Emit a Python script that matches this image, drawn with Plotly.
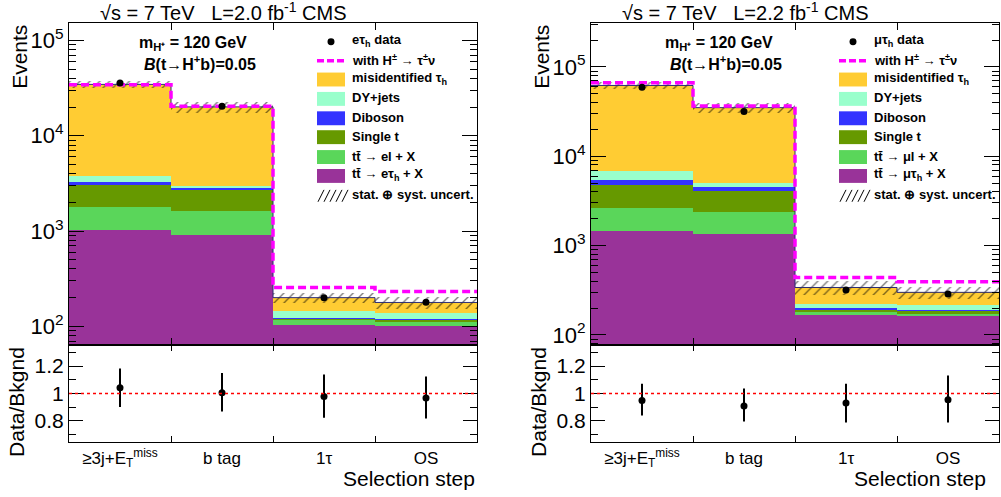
import numpy as np
import plotly.graph_objects as go

W, H = 1001, 497
FONT = "Liberation Sans, Arial, Helvetica, sans-serif"

# ---------------- data ----------------
steps = ["≥3j+E<sub>T</sub><sup>miss</sup>", "b tag", "1τ", "OS"]
bins = np.arange(len(steps))
edges = np.arange(len(steps) + 1) - 0.5

# e + tau_h channel (stack components, bottom to top)
etau_tt_tauh = [1020, 915, 104, 101]
etau_tt_l = [770, 710, 13, 10]
etau_single_t = [1240, 1075, 3, 5]
etau_diboson = [260, 150, 4, 3]
etau_dy = [500, 100, 21, 21]
etau_misid = [30810, 17150, 55, 38]
etau_uncert = [2900, 2500, 23, 27]
etau_signal = [34400, 20400, 255, 232]
etau_data = [35800, 20400, 199, 179]
etau_ratio = [1.041, 1.005, 0.978, 0.966]
etau_ratio_up = [0.141, 0.145, 0.160, 0.158]
etau_ratio_dn = [0.140, 0.138, 0.157, 0.150]

# mu + tau_h channel
mutau_tt_tauh = [1470, 1350, 166, 165]
mutau_tt_l = [1180, 1040, 14, 8]
mutau_single_t = [2130, 1730, 10, 15]
mutau_diboson = [640, 380, 10, 5]
mutau_dy = [1360, 560, 21, 24]
mutau_misid = [55220, 29940, 119, 83]
mutau_uncert = [5200, 4200, 60, 44]
mutau_signal = [66400, 36500, 439, 395]
mutau_data = [59300, 31600, 318, 288]
mutau_ratio = [0.949, 0.908, 0.930, 0.954]
mutau_ratio_up = [0.121, 0.128, 0.140, 0.177]
mutau_ratio_dn = [0.111, 0.114, 0.143, 0.167]

colors = {
    "tt_tauh": "#993399",
    "tt_l": "#5AD65A",
    "single_t": "#669900",
    "diboson": "#3333FF",
    "dy": "#99FFCC",
    "misid": "#FFCC33",
}
MAGENTA = "#FF00FF"

channels = [
    dict(
        lead="e", lumi="2.0",
        comps=[("tt_tauh", etau_tt_tauh), ("tt_l", etau_tt_l), ("single_t", etau_single_t),
               ("diboson", etau_diboson), ("dy", etau_dy), ("misid", etau_misid)],
        uncert=etau_uncert, signal=etau_signal, data=etau_data,
        ratio=etau_ratio, ratio_up=etau_ratio_up, ratio_dn=etau_ratio_dn,
        yrange=[1.805, 5.185], xpix=(69, 477),
    ),
    dict(
        lead="μ", lumi="2.2",
        comps=[("tt_tauh", mutau_tt_tauh), ("tt_l", mutau_tt_l), ("single_t", mutau_single_t),
               ("diboson", mutau_diboson), ("dy", mutau_dy), ("misid", mutau_misid)],
        uncert=mutau_uncert, signal=mutau_signal, data=mutau_data,
        ratio=mutau_ratio, ratio_up=mutau_ratio_up, ratio_dn=mutau_ratio_dn,
        yrange=[1.889, 5.493], xpix=(591, 999),
    ),
]


def px(x):
    return x / W


def py(y):
    return 1 - y / H


def note(text, x, y, size, xanchor="left", yanchor="middle", **kw):
    return dict(text=text, x=px(x), y=py(y), xref="paper", yref="paper", showarrow=False,
                xanchor=xanchor, yanchor=yanchor,
                font=dict(family=FONT, size=size, color="black"), **kw)


UP_TOP, UP_BOT, LO_BOT = 23, 347, 445

fig = go.Figure()
annotations = []
shapes = []

for i, ch in enumerate(channels):
    n = 2 * i
    xu, yu = f"x{n + 1 if n else ''}", f"y{n + 1 if n else ''}"
    xl, yl = f"x{n + 2}", f"y{n + 2}"

    # stacked backgrounds drawn as cumulative bars, tallest first
    cum = np.cumsum([np.array(v, dtype=float) for _, v in ch["comps"]], axis=0)
    for k in range(len(ch["comps"]) - 1, -1, -1):
        key = ch["comps"][k][0]
        fig.add_trace(go.Bar(
            x=bins, y=cum[k], width=1.0, marker=dict(color=colors[key], line=dict(width=0)),
            xaxis=xu, yaxis=yu, showlegend=False, hoverinfo="skip",
        ))
    total = cum[-1]
    unc = np.array(ch["uncert"], dtype=float)

    # total background outline
    fig.add_trace(go.Scatter(
        x=edges, y=np.append(total, total[-1]), mode="lines", line_shape="hv",
        line=dict(color="#2B2B70", width=1), xaxis=xu, yaxis=yu, showlegend=False, hoverinfo="skip",
    ))
    # hatched uncertainty band
    fig.add_trace(go.Bar(
        x=bins, y=2 * unc, base=total - unc, width=1.0,
        marker=dict(color="rgba(0,0,0,0)", line=dict(width=0),
                    pattern=dict(shape="/", fgcolor="black", size=7, solidity=0.2, fillmode="overlay")),
        xaxis=xu, yaxis=yu, showlegend=False, hoverinfo="skip",
    ))
    # prediction including the charged Higgs signal
    sig = np.array(ch["signal"], dtype=float)
    fig.add_trace(go.Scatter(
        x=edges, y=np.append(sig, sig[-1]), mode="lines", line_shape="hv",
        line=dict(color=MAGENTA, width=3.5, dash="8px,4px"),
        xaxis=xu, yaxis=yu, showlegend=False, hoverinfo="skip",
    ))
    # data
    fig.add_trace(go.Scatter(
        x=bins, y=ch["data"], mode="markers", marker=dict(color="black", size=7),
        xaxis=xu, yaxis=yu, showlegend=False, hoverinfo="skip",
    ))
    # ratio panel
    shapes.append(dict(type="line", xref=f"{xl} domain", yref=yl, x0=0, x1=1, y0=1, y1=1,
                       line=dict(color="#FF0000", width=1.5, dash="dot"), layer="above"))
    fig.add_trace(go.Scatter(
        x=bins, y=ch["ratio"], mode="markers", marker=dict(color="black", size=7),
        error_y=dict(type="data", array=ch["ratio_up"], arrayminus=ch["ratio_dn"],
                     color="black", thickness=2, width=0),
        xaxis=xl, yaxis=yl, showlegend=False, hoverinfo="skip",
    ))

    x0p, x1p = ch["xpix"]
    dom_x = [px(x0p), px(x1p)]
    axis_common = dict(showline=True, linecolor="black", linewidth=1, mirror="allticks",
                       showgrid=False, zeroline=False, tickcolor="black")
    xmin = dict(ticks="inside", ticklen=7, tick0=0.5, dtick=1, tickcolor="black", showgrid=False)
    lay = {}
    lay[f"xaxis{n + 1 if n else ''}"] = dict(
        domain=dom_x, anchor=yu, range=[-0.5, 3.5], showticklabels=False,
        ticks="inside", ticklen=0, dtick=1, tick0=0, minor=xmin, **axis_common)
    decades = [1e2, 1e3, 1e4, 1e5]
    minors = [m * d for d in [10, 100, 1000, 1e4, 1e5] for m in range(2, 10)]
    lay[f"yaxis{n + 1 if n else ''}"] = dict(
        domain=[py(UP_BOT), py(UP_TOP)], anchor=xu, type="log", range=ch["yrange"],
        tickvals=decades, ticktext=[f"10<sup>{int(np.log10(d))}</sup>" for d in decades],
        ticks="inside", ticklen=15, minor=dict(ticks="inside", ticklen=7, tickvals=minors, tickcolor="black"),
        tickfont=dict(family=FONT, size=22, color="black"), **axis_common)
    lay[f"xaxis{n + 2}"] = dict(
        domain=dom_x, anchor=yl, range=[-0.5, 3.5], tickvals=list(bins), ticktext=steps,
        ticks="inside", ticklen=0, minor=dict(xmin, ticklen=6),
        tickfont=dict(family=FONT, size=17, color="black"), **axis_common)
    lay[f"yaxis{n + 2}"] = dict(
        domain=[py(LO_BOT), py(UP_BOT)], anchor=xl, range=[0.642, 1.355],
        tickvals=[0.8, 1.0, 1.2], ticktext=["0.8", "1", "1.2"], ticks="inside", ticklen=14,
        minor=dict(ticks="inside", ticklen=7, tickvals=[0.7, 0.9, 1.1, 1.3], tickcolor="black"),
        tickfont=dict(family=FONT, size=21, color="black"), **axis_common)
    fig.update_layout(**lay)

    off = x0p - 69  # horizontal offset of this panel relative to the left one

    # header
    annotations.append(note(f"√s = 7 TeV\u00a0\u00a0\u00a0L={ch['lumi']} fb<sup>-1</sup> CMS",
                            223 + off, 11.5, 20, xanchor="center"))
    # model parameters
    shift = 4 if i else 0
    annotations.append(note("<b>m<sub>H⁺</sub> = 120 GeV</b>", 137 + off + shift, 44, 16))
    annotations.append(note("<b><i>B</i>(t→H<sup>+</sup>b)=0.05</b>", 142 + off + shift, 63, 16))
    # axis titles
    annotations.append(note("Events", 20 + off, 23, 21, xanchor="center", yanchor="top", textangle=-90))
    annotations.append(note("Data/Bkgnd", 17 + off, 347, 21, xanchor="center", yanchor="top", textangle=-90))
    annotations.append(note("Selection step", 477 + off - (11 if i else 0), 481, 21, xanchor="right"))

    # legend
    bx0, bx1, tx = 317 + off, 345 + off, 350 + off
    shapes.append(dict(type="circle", xref="paper", yref="paper", x0=px(bx0 + 14 - 3.5), x1=px(bx0 + 14 + 3.5),
                       y0=py(42 + 3.5), y1=py(42 - 3.5), fillcolor="black", line=dict(width=0)))
    annotations.append(note(f"<b>{ch['lead']}τ<sub>h</sub> data</b>", tx, 41, 13))
    shapes.append(dict(type="line", xref="paper", yref="paper", x0=px(bx0), x1=px(bx1), y0=py(61), y1=py(61),
                       line=dict(color=MAGENTA, width=3.5, dash="7px,3px")))
    annotations.append(note("<b>with H<sup>±</sup> → τ<sup>±</sup>ν</b>", tx, 60, 13))
    lep = ch["lead"]
    rows = [
        ("misid", "misidentified τ<sub>h</sub>", 80),
        ("dy", "DY+jets", 99.5),
        ("diboson", "Diboson", 119),
        ("single_t", "Single t", 138),
        ("tt_l", f"tt\u0304 → {lep}l + X", 158),
        ("tt_tauh", f"tt\u0304 → {lep}τ<sub>h</sub> + X", 177),
    ]
    for key, label, yc in rows:
        shapes.append(dict(type="rect", xref="paper", yref="paper", x0=px(bx0), x1=px(bx1),
                           y0=py(yc + 7), y1=py(yc - 7), fillcolor=colors[key], line=dict(width=0)))
        annotations.append(note(f"<b>{label}</b>", tx, yc - 1, 13))
    # hatch swatch
    for k in range(5):
        xs = bx0 + 1 + 6 * k
        shapes.append(dict(type="line", xref="paper", yref="paper", x0=px(xs), x1=px(xs + 6),
                           y0=py(203), y1=py(191), line=dict(color="black", width=1)))
    annotations.append(note("<b>stat. ⊕ syst. uncert.</b>", tx, 196, 13))

fig.update_layout(
    width=W, height=H, margin=dict(l=0, r=0, t=0, b=0, pad=0),
    paper_bgcolor="white", plot_bgcolor="white",
    barmode="overlay", bargap=0, showlegend=False,
    annotations=annotations, shapes=shapes,
    font=dict(family=FONT, color="black"),
)

fig.write_html("out.html")
